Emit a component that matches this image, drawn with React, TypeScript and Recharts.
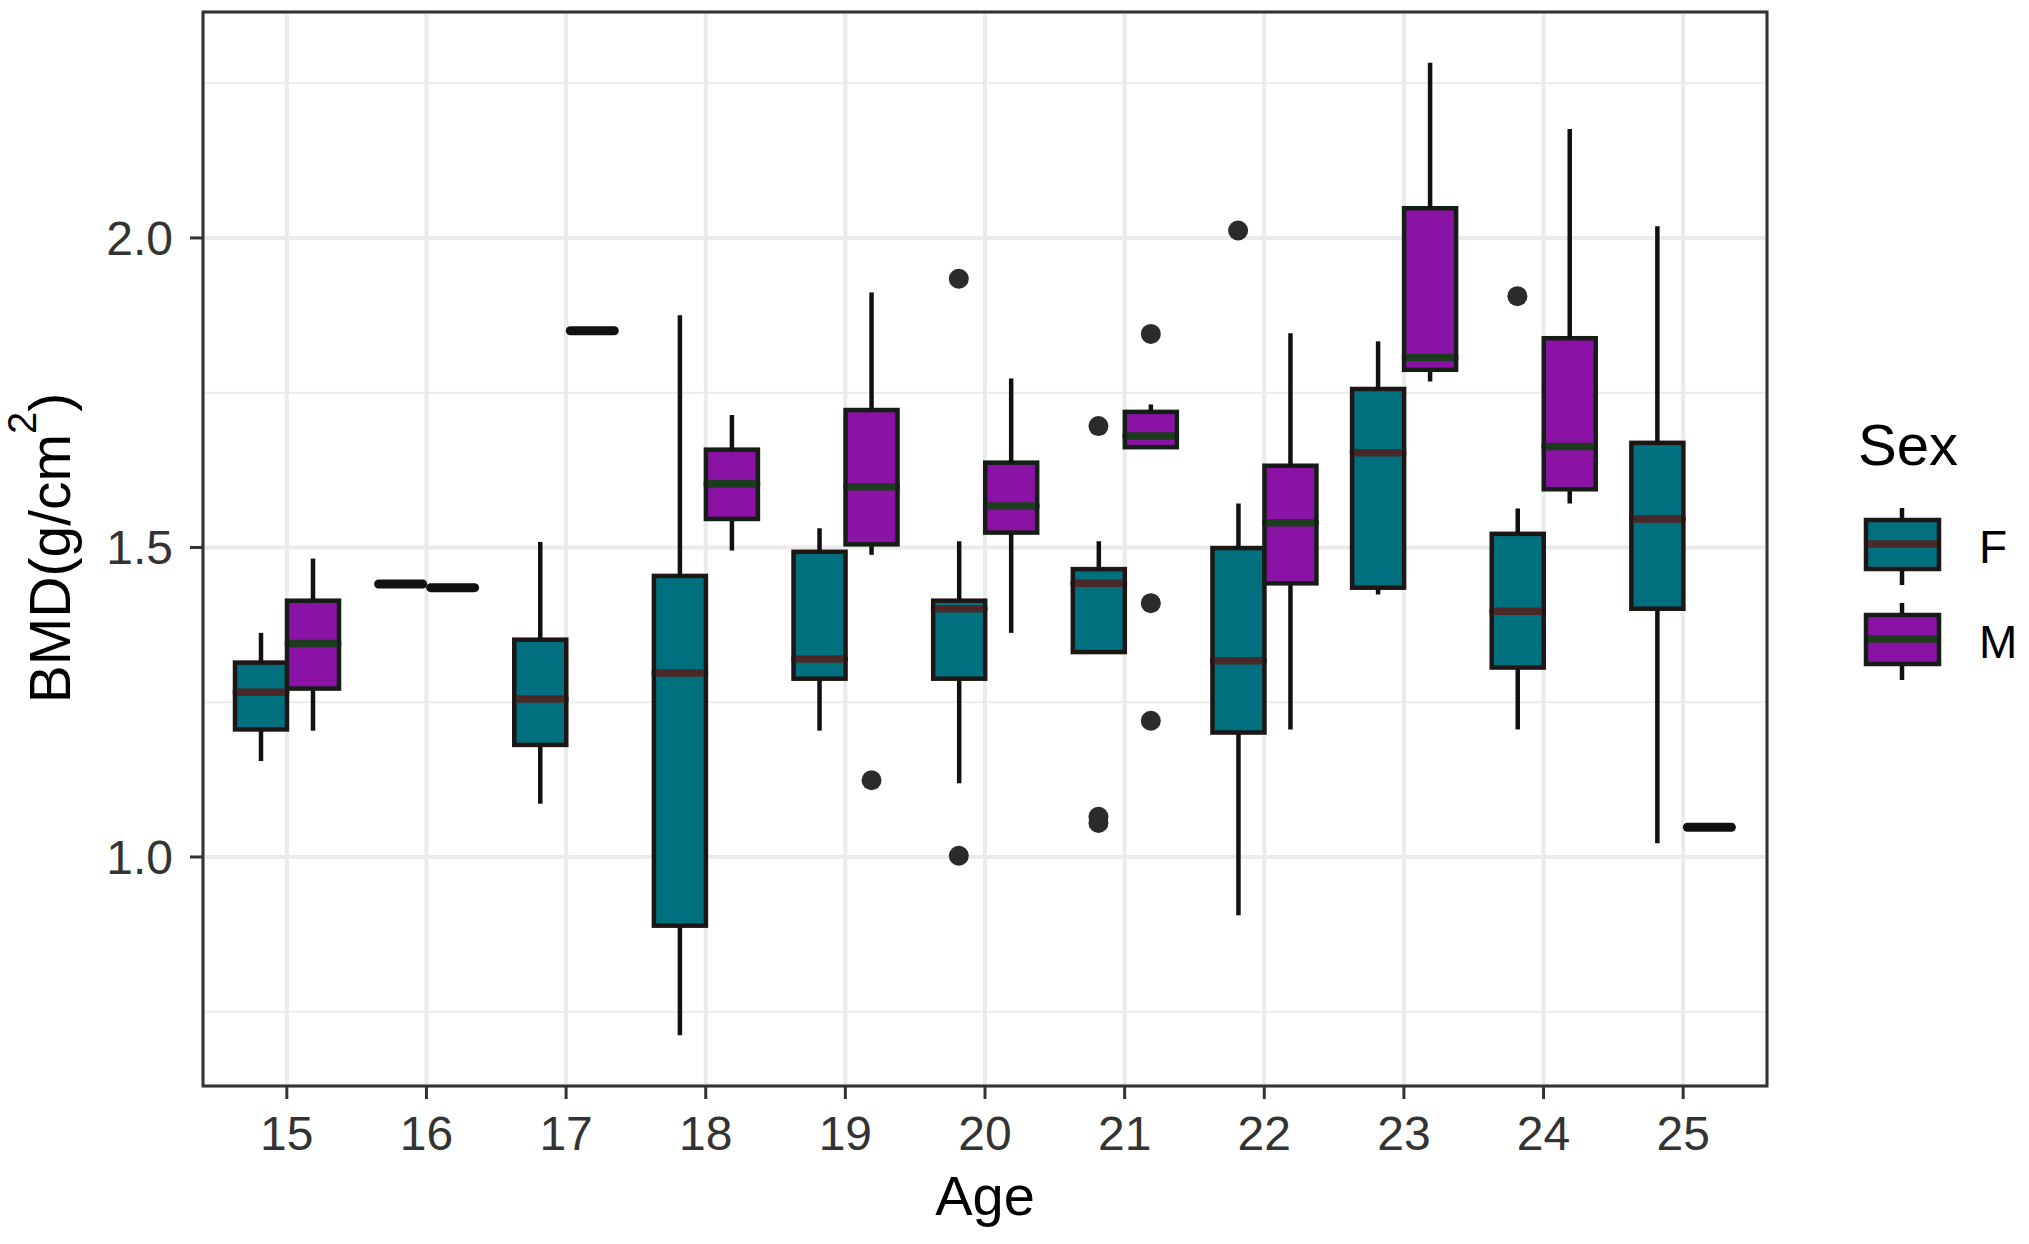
import React from "react";
import { ComposedChart, Bar, Scatter, XAxis, YAxis, CartesianGrid, ReferenceArea } from "recharts";

// 年龄分类与性别
const ages = ["15", "16", "17", "18", "19", "20", "21", "22", "23", "24", "25"];
const sexes = ["F", "M"];

// 女性箱线图五数（下须、Q1、中位数、Q3、上须）
const fLow = [1.155, 1.441, 1.086, 0.712, 1.204, 1.119, 1.331, 0.906, 1.424, 1.206, 1.022];
const fQ1 = [1.206, 1.441, 1.181, 0.889, 1.288, 1.288, 1.331, 1.201, 1.435, 1.306, 1.401];
const fMed = [1.266, 1.441, 1.255, 1.297, 1.32, 1.401, 1.442, 1.317, 1.653, 1.397, 1.546];
const fQ3 = [1.314, 1.441, 1.351, 1.454, 1.493, 1.414, 1.465, 1.499, 1.756, 1.522, 1.669];
const fHigh = [1.362, 1.441, 1.509, 1.875, 1.531, 1.51, 1.51, 1.571, 1.833, 1.563, 2.019];

// 男性箱线图五数
const mLow = [1.204, 1.435, 1.85, 1.495, 1.488, 1.362, 1.662, 1.206, 1.768, 1.571, 1.048];
const mQ1 = [1.272, 1.435, 1.85, 1.546, 1.505, 1.524, 1.662, 1.442, 1.787, 1.594, 1.048];
const mMed = [1.345, 1.435, 1.85, 1.603, 1.598, 1.567, 1.68, 1.54, 1.807, 1.663, 1.048];
const mQ3 = [1.414, 1.435, 1.85, 1.658, 1.722, 1.637, 1.719, 1.632, 2.048, 1.838, 1.048];
const mHigh = [1.482, 1.435, 1.85, 1.714, 1.912, 1.773, 1.731, 1.846, 2.283, 2.176, 1.048];

// 离群点
const fOutAge = [20, 20, 21, 21, 21, 22, 24];
const fOutVal = [1.934, 1.002, 1.696, 1.065, 1.055, 2.012, 1.906];
const mOutAge = [19, 21, 21, 21];
const mOutVal = [1.124, 1.845, 1.41, 1.22];

const yTicks = [1.0, 1.5, 2.0];
const yMinor = [0.75, 1.25, 1.75, 2.25];

const FONT = "'Liberation Sans', Arial, Helvetica, sans-serif";
const FILL: Record<string, string> = { F: "#00707F", M: "#8A13A6" };
const MEDIAN: Record<string, string> = { F: "#4B2828", M: "#1D3B1D" };
const OUTLINE: Record<string, string> = { F: "#1E1515", M: "#151E15" };
const DODGE = 0.1875;
const LW = 4.5;

const series: Record<string, number[][]> = {
  F: [fLow, fQ1, fMed, fQ3, fHigh],
  M: [mLow, mQ1, mMed, mQ3, mHigh],
};

const rows = ages.map((age, i) => {
  const row: any = { age };
  sexes.forEach((s) => {
    const [lo, q1, med, q3, hi] = series[s].map((a) => a[i]);
    row[`${s}_s0`] = lo;
    row[`${s}_s1`] = q1 - lo;
    row[`${s}_s2`] = med - q1;
    row[`${s}_s3`] = q3 - med;
    row[`${s}_s4`] = hi - q3;
    row[`${s}_flat`] = q1 === q3;
  });
  return row;
});

const outF = fOutAge.map((a, i) => ({ x: a - DODGE, y: fOutVal[i] }));
const outM = mOutAge.map((a, i) => ({ x: a + DODGE, y: mOutVal[i] }));

const emptyShape = () => <g />;

const whiskerShape = (p: any) => {
  const cx = p.x + p.width / 2;
  return <line x1={cx} x2={cx} y1={p.y} y2={p.y + p.height} stroke="#111" strokeWidth={LW} />;
};

const lowerBox = (sex: string) => (p: any) => {
  if (p.payload[`${sex}_flat`]) return <g />;
  const top = Math.min(p.y, p.y + p.height);
  return (
    <rect x={p.x} y={top} width={p.width} height={Math.abs(p.height)}
      fill={FILL[sex]} stroke={OUTLINE[sex]} strokeWidth={LW} />
  );
};

const upperBox = (sex: string) => (p: any) => {
  if (p.payload[`${sex}_flat`]) {
    return (
      <line x1={p.x + 4} x2={p.x + p.width - 4} y1={p.y} y2={p.y}
        stroke="#111" strokeWidth={9} strokeLinecap="round" />
    );
  }
  const top = Math.min(p.y, p.y + p.height);
  const bottom = Math.max(p.y, p.y + p.height);
  return (
    <g>
      <rect x={p.x} y={top} width={p.width} height={bottom - top}
        fill={FILL[sex]} stroke={OUTLINE[sex]} strokeWidth={LW} />
      <line x1={p.x + 2} x2={p.x + p.width - 2} y1={bottom} y2={bottom}
        stroke={MEDIAN[sex]} strokeWidth={7.5} />
    </g>
  );
};

const dotShape = (p: any) => <circle cx={p.cx} cy={p.cy} r={10} fill="#2B2B2B" />;

const tickStyle = { fill: "#333", fontSize: 48, fontFamily: FONT };

export default function App() {
  return (
    <div style={{ position: "absolute", left: 0, top: 0, width: 2029, height: 1244, background: "#fff", fontFamily: FONT }}>
      <ComposedChart
        width={2029}
        height={1244}
        data={rows}
        margin={{ top: 12, right: 262, bottom: 0, left: 0 }}
        barSize={52}
        barGap={0}
      >
        <CartesianGrid xAxisId="cat" vertical={false} horizontalValues={yMinor} stroke="#EBEBEB" strokeWidth={2} />
        <CartesianGrid xAxisId="cat" stroke="#EBEBEB" strokeWidth={4} />
        <XAxis
          xAxisId="cat"
          dataKey="age"
          height={158}
          padding={{ left: 14, right: 14 }}
          axisLine={false}
          tickLine={{ stroke: "#333", strokeWidth: 3 }}
          tickSize={13}
          tickMargin={17}
          tick={tickStyle}
          interval={0}
        />
        <XAxis xAxisId="num" type="number" dataKey="x" domain={[14.4, 25.6]} allowDataOverflow hide />
        <YAxis
          type="number"
          domain={[0.63, 2.365]}
          allowDataOverflow
          ticks={yTicks}
          tickFormatter={(v: number) => v.toFixed(1)}
          width={203}
          axisLine={false}
          tickLine={{ stroke: "#333", strokeWidth: 3 }}
          tickSize={13}
          tickMargin={17}
          tick={tickStyle}
        />
        {sexes.map((s) => [
          <Bar key={`${s}0`} xAxisId="cat" stackId={s} dataKey={`${s}_s0`} shape={emptyShape} isAnimationActive={false} />,
          <Bar key={`${s}1`} xAxisId="cat" stackId={s} dataKey={`${s}_s1`} shape={whiskerShape} isAnimationActive={false} />,
          <Bar key={`${s}2`} xAxisId="cat" stackId={s} dataKey={`${s}_s2`} shape={lowerBox(s)} isAnimationActive={false} />,
          <Bar key={`${s}3`} xAxisId="cat" stackId={s} dataKey={`${s}_s3`} shape={upperBox(s)} isAnimationActive={false} />,
          <Bar key={`${s}4`} xAxisId="cat" stackId={s} dataKey={`${s}_s4`} shape={whiskerShape} isAnimationActive={false} />,
        ])}
        <Scatter xAxisId="num" data={outF} dataKey="y" shape={dotShape} isAnimationActive={false} />
        <Scatter xAxisId="num" data={outM} dataKey="y" shape={dotShape} isAnimationActive={false} />
        <ReferenceArea
          xAxisId="num"
          x1={14.4}
          x2={25.6}
          y1={0.63}
          y2={2.365}
          fill="none"
          stroke="#333"
          strokeWidth={3}
          ifOverflow="visible"
        />
      </ComposedChart>

      {/* 坐标轴标题与图例 */}
      <svg width={2029} height={1244} style={{ position: "absolute", left: 0, top: 0, pointerEvents: "none" }}>
        <text x={985} y={1215} textAnchor="middle" fontSize={56} fontFamily={FONT} fill="#000">Age</text>
        <text x={70} y={548} transform="rotate(-90 70 548)" textAnchor="middle" fontSize={57} fontFamily={FONT} fill="#000">
          BMD(g/cm<tspan fontSize={40} dy={-34}>2</tspan><tspan dy={34}>)</tspan>
        </text>
        <text x={1858} y={465} fontSize={58} fontFamily={FONT} fill="#000">Sex</text>
        {sexes.map((s, i) => {
          const off = i * 95;
          return (
            <g key={s}>
              <line x1={1902} x2={1902} y1={508 + off} y2={585 + off} stroke="#111" strokeWidth={LW} />
              <rect x={1866} y={520 + off} width={73} height={49} fill={FILL[s]} stroke={OUTLINE[s]} strokeWidth={LW} />
              <line x1={1868} x2={1937} y1={544 + off} y2={544 + off} stroke={MEDIAN[s]} strokeWidth={7.5} />
              <text x={1979} y={563 + off} fontSize={46} fontFamily={FONT} fill="#000">{s}</text>
            </g>
          );
        })}
      </svg>
    </div>
  );
}
